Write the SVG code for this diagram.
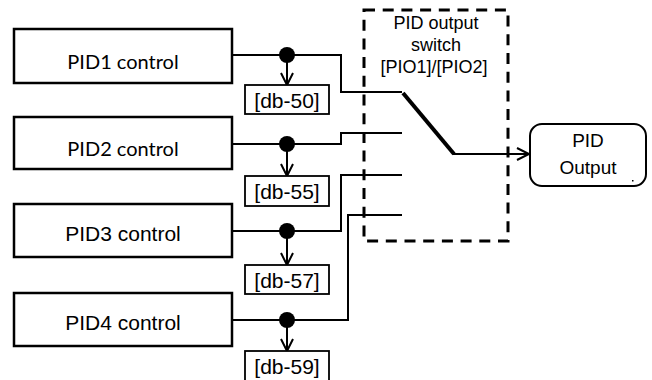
<svg xmlns="http://www.w3.org/2000/svg" width="652" height="380" viewBox="0 0 652 380">
<style>
.box{fill:#fff;stroke:#000;stroke-width:2.5}
.db{fill:#fff;stroke:#000;stroke-width:1.8}
.ln{fill:none;stroke:#000;stroke-width:2}
.arr{fill:none;stroke:#000;stroke-width:2;stroke-linejoin:miter}
.cal{font-family:Lato,"Noto Sans",sans-serif;font-size:20px;text-anchor:middle;fill:#000}
.ar{font-family:"Liberation Sans",Arial,sans-serif;font-size:21px;text-anchor:middle;fill:#000}
.sw{font-family:"Liberation Sans",Arial,sans-serif;font-size:18px;text-anchor:middle;fill:#000}
.out{font-family:"Liberation Sans",Arial,sans-serif;font-size:19px;text-anchor:middle;fill:#000}
</style>
<rect fill="#fff" width="652" height="380"/>
<g id="switch">
<rect x="364" y="10" width="144" height="231" fill="none" stroke="#000" stroke-width="3" stroke-dasharray="11,7.7"/>
<text class="sw" x="436" y="29">PID output</text>
<text class="sw" x="436" y="51">switch</text>
<text class="sw" x="434" y="73">[PIO1]/[PIO2]</text>
</g>
<g id="connectors">
<path class="ln" d="M232,55 H341 V92 H402"/>
<path class="ln" d="M232,144 H341 V133 H402"/>
<path class="ln" d="M232,231 H341 V175 H402"/>
<path class="ln" d="M232,320 H348 V215 H402"/>
<line x1="403" y1="93" x2="454" y2="154" stroke="#000" stroke-width="4"/>
<path class="ln" d="M453,154 H528"/>
<path class="arr" d="M517,148 L529,154 L517,160"/>
<circle cx="287" cy="55" r="8"/>
<circle cx="287" cy="144" r="8"/>
<circle cx="287" cy="231" r="8"/>
<circle cx="287" cy="320" r="8"/>
<path class="ln" d="M287,55 V85 M287,144 V176 M287,231 V265 M287,320 V351"/>
<path class="arr" d="M281,73 L287,85 L293,73 M281,164 L287,176 L293,164 M281,253 L287,265 L293,253 M281,339 L287,351 L293,339"/>
</g>
<g id="pid1"><rect class="box" x="14" y="29" width="218" height="54"/><text class="cal" x="123" y="69">PID1 control</text></g>
<g id="pid2"><rect class="box" x="14" y="117" width="218" height="52"/><text class="cal" x="123" y="156">PID2 control</text></g>
<g id="pid3"><rect class="box" x="14" y="204" width="218" height="53"/><text class="ar" x="123" y="241">PID3 control</text></g>
<g id="pid4"><rect class="box" x="14" y="293" width="218" height="53"/><text class="ar" x="123" y="330">PID4 control</text></g>
<g id="db50"><rect class="db" x="245" y="85" width="84" height="29"/><text class="ar" x="287" y="108">[db-50]</text></g>
<g id="db55"><rect class="db" x="245" y="176" width="84" height="30"/><text class="ar" x="287" y="199">[db-55]</text></g>
<g id="db57"><rect class="db" x="245" y="265" width="84" height="29"/><text class="ar" x="287" y="288">[db-57]</text></g>
<g id="db59"><rect class="db" x="245" y="351" width="84" height="30"/><text class="ar" x="287" y="374">[db-59]</text></g>
<g id="pidout"><rect x="530" y="124" width="116" height="62" rx="12" fill="#fff" stroke="#000" stroke-width="2"/><text class="out" x="588" y="147">PID</text><text class="out" x="588" y="174">Output</text><rect x="632" y="180" width="1.5" height="1.5" fill="#000"/></g>
</svg>
